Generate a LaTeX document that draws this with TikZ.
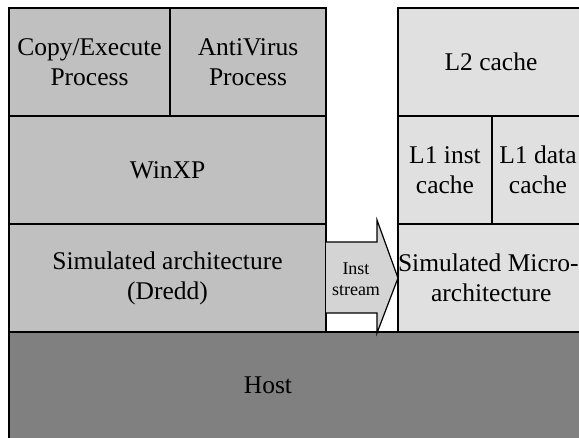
\documentclass[tikz,border=0pt]{standalone}
\usepackage{fontspec}
\setmainfont{Liberation Serif}
\usetikzlibrary{positioning}
\definecolor{guestcolor}{RGB}{192,192,192}
\definecolor{microcolor}{RGB}{224,224,224}
\definecolor{hostcolor}{RGB}{128,128,128}
\definecolor{streamcolor}{RGB}{212,212,212}

\begin{document}
\begin{tikzpicture}[x=1pt,y=-1pt,line width=1.2pt,
                    layer/.style={draw=black,rectangle,inner sep=0pt,outer sep=0pt,
                                  align=center,font=\fontsize{25.5}{30}\selectfont}]
  \tikzstyle{guest}=[layer,fill=guestcolor,minimum height=108pt]
  \tikzstyle{micro}=[layer,fill=microcolor,minimum height=108pt]
  \useasboundingbox (0,0) rectangle (579,437);
  \clip (0,0) rectangle (579,437);

  % guest side
  \node[guest, minimum width=161pt, anchor=north west] (copy) at (9,8) {Copy/Execute\\Process};
  \node[guest, minimum width=156pt] (av) [right=0pt of copy] {AntiVirus\\Process};
  \node[guest, minimum width=317pt] (winxp) [below=0pt of copy.south west, anchor=north west] {WinXP};
  \node[guest, minimum width=317pt] (dredd) [below=0pt of winxp.south west, anchor=north west] {Simulated architecture\\(Dredd)};

  % micro-architecture side
  \node[micro, minimum width=186pt, anchor=north west] (l2) at (398,8) {L2 cache};
  \node[micro, minimum width=94pt] (l1i) [below=0pt of l2.south west, anchor=north west] {L1 inst\\cache};
  \node[micro, minimum width=92pt] (l1d) [right=0pt of l1i] {L1 data\\cache};
  \node[micro, minimum width=186pt] (uarch) [below=0pt of l1i.south west, anchor=north west] {Simulated Micro-\hspace*{6pt}\\architecture};

  % host
  \node[layer, fill=hostcolor, minimum width=600pt, minimum height=120pt, anchor=north west] (host) at (9,332) {};
  \node[font=\fontsize{25.5}{30}\selectfont] (hostlabel) at (268,385) {Host};

  % instruction stream
  \draw[fill=streamcolor] (dredd.east |- 0,242) -- (377,242) -- (377,220)
        -- (uarch.west) -- (377,333) -- (377,313) -- (dredd.east |- 0,313);
  \node[align=center, font=\fontsize{18}{21}\selectfont] (inst) at (356,279) {Inst\\stream};
\end{tikzpicture}
\end{document}
